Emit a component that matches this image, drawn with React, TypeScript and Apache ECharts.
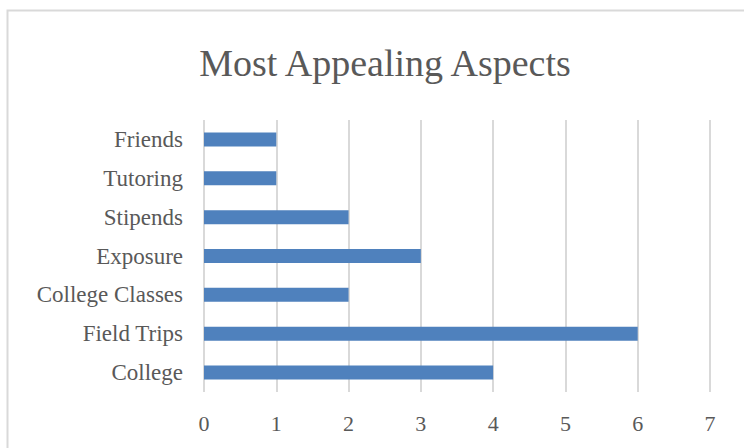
import React, { useEffect, useRef } from "react";
import * as echarts from "echarts";

const categories = ["College", "Field Trips", "College Classes", "Exposure", "Stipends", "Tutoring", "Friends"];
const values = [4, 6, 2, 3, 2, 1, 1];
const titleText = "Most Appealing Aspects";

export default function App() {
  const ref = useRef<HTMLDivElement>(null);
  useEffect(() => {
    if (!ref.current) return;
    const chart = echarts.init(ref.current, null, { renderer: "svg" });
    const font = "'Liberation Serif', serif";
    chart.setOption({
      animation: false,
      backgroundColor: "#ffffff",
      title: {
        text: titleText,
        left: 380,
        textAlign: "center",
        top: 39,
        textStyle: { fontFamily: font, fontSize: 38, fontWeight: "normal", color: "#595959" },
      },
      graphic: [
        {
          type: "rect",
          shape: { x: 7.5, y: 10.5, width: 900, height: 600 },
          style: { fill: "none", stroke: "#d9d9d9", lineWidth: 2 },
          silent: true,
          z: -1,
        },
      ],
      grid: { left: 204, right: 34, top: 120, bottom: 56 },
      xAxis: {
        type: "value",
        min: 0,
        max: 7,
        interval: 1,
        axisLine: { show: false },
        axisTick: { show: false },
        splitLine: { show: true, lineStyle: { color: "#d9d9d9", width: 2 } },
        axisLabel: { fontFamily: font, fontSize: 22, color: "#595959", margin: 20 },
      },
      yAxis: {
        type: "category",
        data: categories,
        axisLine: { show: false },
        axisTick: { show: false },
        axisLabel: { fontFamily: font, fontSize: 23, color: "#595959", margin: 21 },
      },
      series: [
        {
          type: "bar",
          data: values,
          barWidth: 14,
          itemStyle: { color: "#4f81bd" },
        },
      ],
    });
    return () => chart.dispose();
  }, []);
  return (
    <div
      ref={ref}
      style={{ position: "absolute", left: 0, top: 0, width: 744, height: 448 }}
    />
  );
}
